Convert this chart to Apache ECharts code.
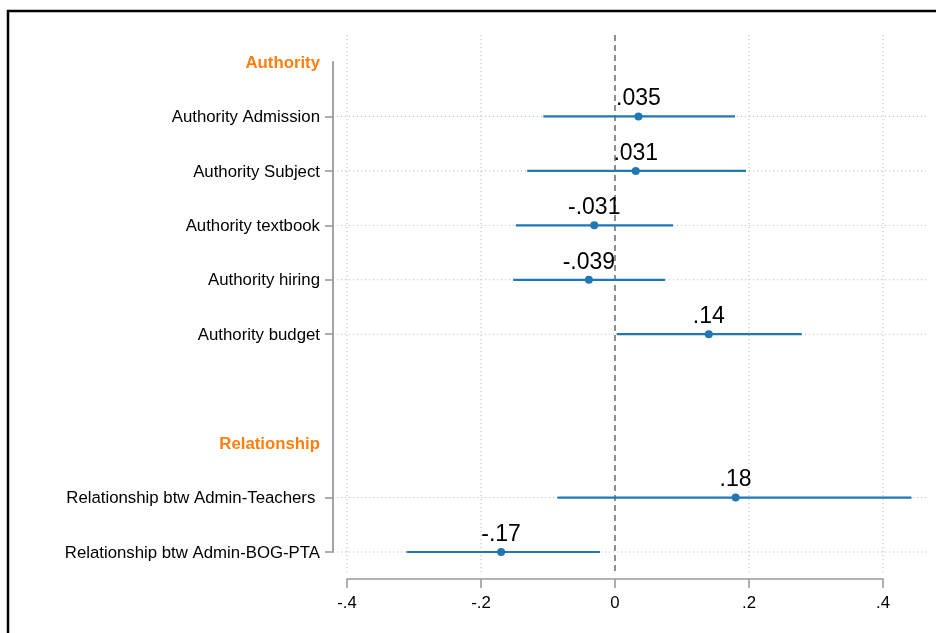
<!DOCTYPE html>
<html>
<head>
<meta charset="utf-8">
<script src="https://cdn.jsdelivr.net/npm/echarts@6/dist/echarts.min.js"></script>
<style>
  html, body { margin: 0; padding: 0; background: #fff; }
  #chart { width: 936px; height: 633px; }
</style>
</head>
<body>
<div id="chart"></div>
<script>
// Rows of the coefficient plot, top to bottom ('' is a spacer row)
const categories = [
  'Authority',
  'Authority Admission',
  'Authority Subject',
  'Authority textbook',
  'Authority hiring',
  'Authority budget',
  '',
  'Relationship',
  'Relationship btw Admin-Teachers ',
  'Relationship btw Admin-BOG-PTA'
];
const groupHeaders = ['Authority', 'Relationship'];

// Point estimates and 95% confidence bounds (null = no estimate on that row)
const coef   = [null, 0.035, 0.031, -0.031, -0.039, 0.14,   null, null, 0.18,   -0.17];
const ciLow  = [null, -0.107, -0.131, -0.148, -0.152, 0.0025, null, null, -0.086, -0.311];
const ciHigh = [null, 0.179, 0.1955, 0.0866, 0.0746, 0.2787, null, null, 0.4425, -0.0224];

const xTicks = [-0.4, -0.2, 0, 0.2, 0.4];

// Extent of the plot region beyond the axis range (gridlines reach this far)
const regionX = [-0.415, 0.464];
const regionY = [-0.496, 9.42];

const FONT = "'Liberation Sans', Arial, Helvetica, sans-serif";
const BLUE = '#1f77b4';
const ORANGE = '#ff7f0e';
const AXIS_GREY = '#9a9a9a';

const fmtNum = v => v === 0 ? '0' : String(v).replace('0.', '.');

const rows = coef.map((v, i) => i).filter(i => coef[i] !== null);

const chart = echarts.init(document.getElementById('chart'), null, { renderer: 'canvas' });

const option = {
  animation: false,
  backgroundColor: '#fff',
  textStyle: { fontFamily: FONT },
  grid: {
    left: 347, right: 53, top: 62, bottom: 81,
    containLabel: false, outerBoundsMode: 'none'
  },
  xAxis: {
    type: 'value',
    min: -0.4, max: 0.4, interval: 0.2,
    offset: 27,
    axisLine: { show: true, onZero: false, lineStyle: { color: AXIS_GREY, width: 1.6 } },
    axisTick: { show: true, length: 9, lineStyle: { color: AXIS_GREY, width: 1.6 } },
    axisLabel: {
      margin: 16, fontSize: 16.8, color: '#000', fontFamily: FONT,
      formatter: fmtNum
    },
    splitLine: { show: false }
  },
  yAxis: {
    type: 'category',
    data: categories,
    inverse: true,
    boundaryGap: false,
    offset: 14,
    axisLine: { show: true, onZero: false, lineStyle: { color: AXIS_GREY, width: 1.8 } },
    axisTick: {
      show: true, length: 8, alignWithLabel: true,
      interval: (idx) => coef[idx] !== null,
      lineStyle: { color: AXIS_GREY, width: 1.6 }
    },
    axisLabel: {
      interval: 0, margin: 13, fontSize: 16.8, color: '#000', fontFamily: FONT,
      padding: [2, 0, 0, 0],
      formatter: v => groupHeaders.includes(v) ? '{h|' + v + '}' : v,
      rich: {
        h: { color: ORANGE, fontWeight: 'bold', fontSize: 16.8, fontFamily: FONT }
      }
    },
    splitLine: { show: false }
  },
  graphic: [{
    type: 'rect',
    z: 100,
    shape: { x: 8, y: 11, width: 1000, height: 700 },
    style: { fill: 'none', stroke: '#000', lineWidth: 2.5 }
  }],
  series: [
    {
      // reference lines: dotted grid at ticks / rows, dashed line at zero
      type: 'custom',
      z: 1,
      silent: true,
      clip: false,
      data: [[0, 0]],
      renderItem: (params, api) => {
        const y0 = api.coord([0, 0])[1];
        const step = api.coord([0, 1])[1] - y0;
        const top = y0 + regionY[0] * step;
        const bottom = y0 + regionY[1] * step;
        const left = api.coord([regionX[0], 0])[0];
        const right = api.coord([regionX[1], 0])[0];
        const children = [];
        rows.forEach(i => {
          const y = api.coord([0, i])[1];
          children.push({
            type: 'line',
            shape: { x1: left, y1: y, x2: right, y2: y },
            style: { stroke: '#bdbdbd', lineWidth: 1, lineDash: [1.2, 2.8] }
          });
        });
        xTicks.forEach(t => {
          const x = api.coord([t, 0])[0];
          children.push(t === 0 ? {
            type: 'line',
            shape: { x1: x, y1: top, x2: x, y2: bottom },
            style: { stroke: '#737373', lineWidth: 1.6, lineDash: [6, 4] }
          } : {
            type: 'line',
            shape: { x1: x, y1: top, x2: x, y2: bottom },
            style: { stroke: '#bdbdbd', lineWidth: 1, lineDash: [1.2, 2.8] }
          });
        });
        return { type: 'group', children };
      }
    },
    {
      // confidence intervals
      type: 'custom',
      z: 2,
      clip: false,
      encode: { x: [0, 1], y: 2 },
      data: rows.map(i => [ciLow[i], ciHigh[i], i]),
      renderItem: (params, api) => {
        const p1 = api.coord([api.value(0), api.value(2)]);
        const p2 = api.coord([api.value(1), api.value(2)]);
        return {
          type: 'line',
          shape: { x1: p1[0], y1: p1[1], x2: p2[0], y2: p2[1] },
          style: { stroke: BLUE, lineWidth: 2.2 }
        };
      }
    },
    {
      // point estimates with value labels
      type: 'scatter',
      z: 3,
      symbol: 'circle',
      symbolSize: 8,
      itemStyle: { color: BLUE, opacity: 1 },
      data: rows.map(i => [coef[i], i]),
      label: {
        show: true,
        position: 'top',
        distance: 2,
        fontSize: 23,
        color: '#000',
        fontFamily: FONT,
        formatter: p => fmtNum(p.value[0])
      }
    }
  ]
};

chart.setOption(option);
</script>
</body>
</html>
